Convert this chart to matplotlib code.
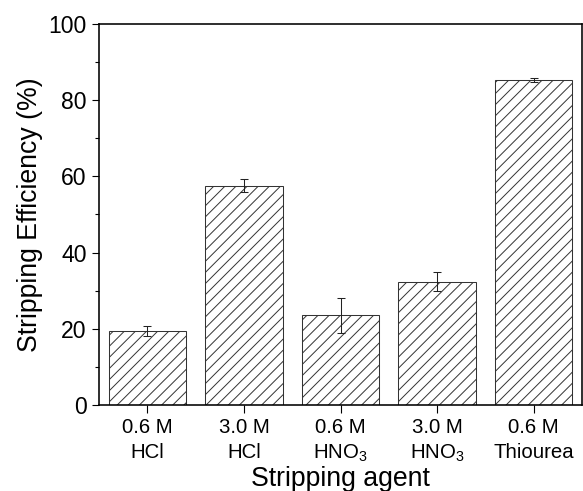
import matplotlib
matplotlib.use('Agg')
import matplotlib.pyplot as plt
from matplotlib.ticker import MultipleLocator

plt.rcParams['font.family'] = ['Liberation Sans', 'DejaVu Sans']
plt.rcParams['mathtext.fontset'] = 'custom'
plt.rcParams['mathtext.rm'] = 'Liberation Sans'
plt.rcParams['mathtext.default'] = 'rm'
plt.rcParams['hatch.linewidth'] = 0.7

# stripping agents and efficiencies
agents = ['0.6 M\nHCl', '3.0 M\nHCl', '0.6 M\nHNO$_3$', '3.0 M\nHNO$_3$', '0.6 M\nThiourea']
efficiency = [19.4, 57.6, 23.6, 32.4, 85.4]
errors = [1.3, 1.8, 4.6, 2.4, 0.5]

fig = plt.figure(figsize=(5.83, 4.91), dpi=100)
ax = fig.add_axes([0.1698, 0.1752, 0.8285, 0.7759])

x = list(range(len(agents)))
ax.bar(x, efficiency, width=0.8, color='white', edgecolor='#333333',
       linewidth=0.75, hatch='///', zorder=2)
ax.errorbar(x, efficiency, yerr=errors, fmt='none', ecolor='#222222',
            elinewidth=0.75, capsize=2.9, capthick=0.75, zorder=3)

ax.set_xlim(-0.5, 4.5)
ax.set_ylim(0, 100)
ax.set_xticks(x)
ax.set_xticklabels(agents, fontsize=14.7, linespacing=1.35)
ax.yaxis.set_major_locator(MultipleLocator(20))
ax.yaxis.set_minor_locator(MultipleLocator(10))
ax.tick_params(axis='y', which='major', labelsize=16.6, length=5.1, width=0.8, pad=3.8)
ax.tick_params(axis='y', which='minor', length=2.9, width=0.8)
ax.tick_params(axis='x', which='major', length=5.8, width=0.8, pad=3.8)

for s in ax.spines.values():
    s.set_linewidth(1.15)

ax.set_xlabel('Stripping agent', fontsize=19.2, labelpad=1)
ax.set_ylabel('Stripping Efficiency (%)', fontsize=19.2, labelpad=4)

fig.savefig('out.png', dpi=100)
